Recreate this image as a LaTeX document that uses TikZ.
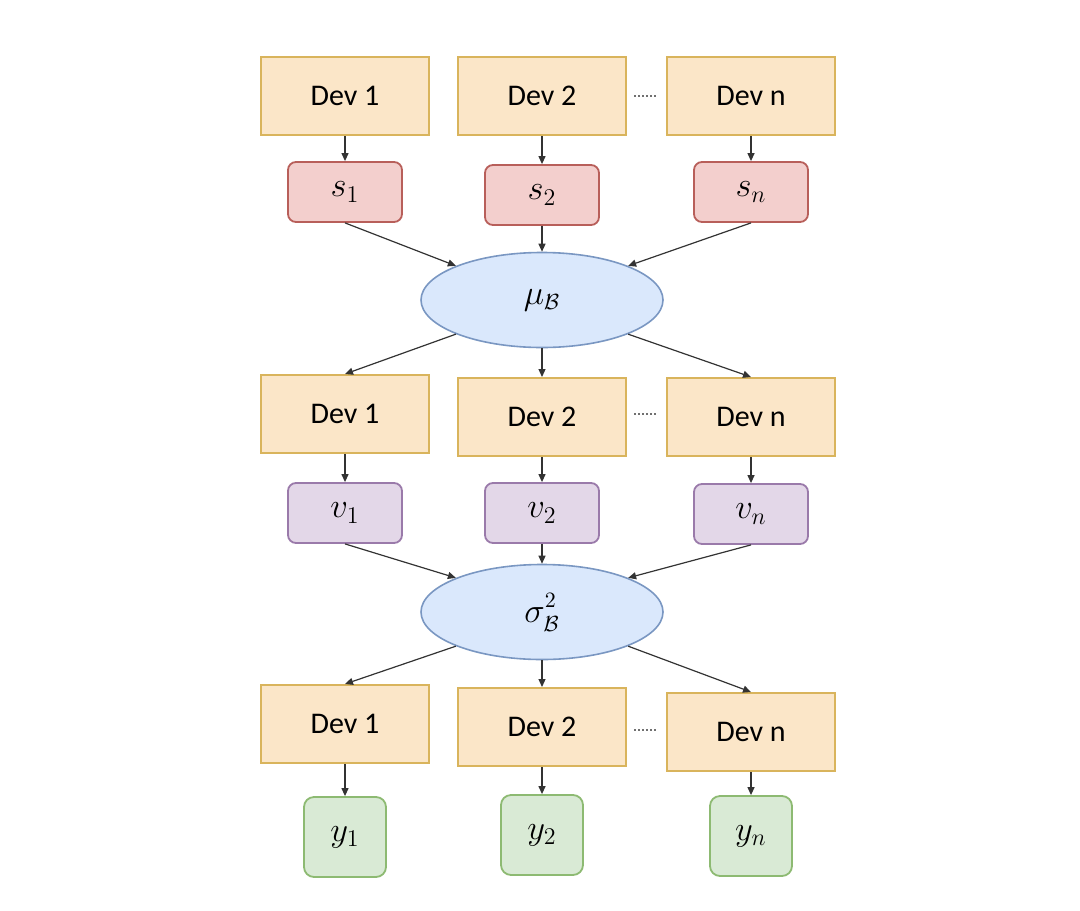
\documentclass[tikz,border=0pt]{standalone}
\usepackage{fontspec}
\usepackage{amsmath}
\newfontfamily\devfont{Carlito}
\usetikzlibrary{shapes.geometric,arrows.meta,calc}
\definecolor{devfill}{HTML}{FBE6C8}
\definecolor{devdraw}{HTML}{D9B45C}
\definecolor{sfill}{HTML}{F3CFCD}
\definecolor{sdraw}{HTML}{B85F5A}
\definecolor{vfill}{HTML}{E3D7E8}
\definecolor{vdraw}{HTML}{9A7AAA}
\definecolor{yfill}{HTML}{D9EAD5}
\definecolor{ydraw}{HTML}{8DBA72}
\definecolor{efill}{HTML}{DAE8FC}
\definecolor{edraw}{HTML}{7A97C2}
\definecolor{arr}{HTML}{333333}
\begin{document}
\begin{tikzpicture}[x=0.5pt,y=-0.5pt,
  devbox/.style={draw=devdraw,fill=devfill,line width=1pt,minimum width=84pt,minimum height=39pt,inner sep=0pt,font=\devfont\fontsize{15}{17}\selectfont},
  sbox/.style={draw=sdraw,fill=sfill,line width=0.9pt,rounded corners=4pt,minimum width=57pt,minimum height=30pt,inner sep=0pt,font=\fontsize{18}{20}\selectfont},
  vbox/.style={sbox,draw=vdraw,fill=vfill},
  ybox/.style={sbox,draw=ydraw,fill=yfill,minimum width=41pt,minimum height=40pt,rounded corners=5pt},
  ell/.style={ellipse,draw=edraw,fill=efill,line width=0.8pt,minimum width=121pt,minimum height=47.5pt,inner sep=0pt,font=\fontsize{16}{18}\selectfont},
  conn/.style={draw=arr,line width=0.6pt,-{Triangle[length=4pt,width=3.5pt]}},
  dots/.style={draw=arr!70,line width=1pt,dash pattern=on 1pt off 1pt}]
\useasboundingbox (0,0) rectangle (1080,910);
% row 1
\node[devbox] (d11) at (345,96) {Dev 1};
\node[devbox] (d12) at (542,96) {Dev 2};
\node[devbox] (d1n) at (751,96) {Dev n};
\node[sbox] (s1) at (345,192) {$s_1$};
\node[sbox] (s2) at (542,195) {$s_2$};
\node[sbox] (sn) at (751,192) {$s_n$};
\node[ell] (mu) at (542,300) {$\mu_{\mathcal{B}}$};
% row 2
\node[devbox] (d21) at (345,414) {Dev 1};
\node[devbox] (d22) at (542,417) {Dev 2};
\node[devbox] (d2n) at (751,417) {Dev n};
\node[vbox] (v1) at (345,513) {$v_1$};
\node[vbox] (v2) at (542,513) {$v_2$};
\node[vbox] (vn) at (751,514) {$v_n$};
\node[ell] (sig) at (542,612) {$\sigma^{\raisebox{1.5pt}{$\scriptstyle 2$}}_{\mathcal{B}}$};
% row 3
\node[devbox] (d31) at (345,724) {Dev 1};
\node[devbox] (d32) at (542,727) {Dev 2};
\node[devbox] (d3n) at (751,732) {Dev n};
\node[ybox] (y1) at (345,837) {$y_1$};
\node[ybox] (y2) at (542,835) {$y_2$};
\node[ybox] (yn) at (751,836) {$y_n$};
% dots
\draw[dots] ($(d12.east)+(7,0)$) -- ($(d1n.west)+(-9,0)$);
\draw[dots] ($(d22.east)+(7,-3)$) -- ($(d2n.west)+(-9,-3)$);
\draw[dots] ($(d32.east)+(7,3)$) -- ($(d3n.west)+(-9,-2)$);
% arrows
\draw[conn] (d11.south) -- (s1.north);
\draw[conn] (d12.south) -- (s2.north);
\draw[conn] (d1n.south) -- (sn.north);
\draw[conn] (s1.south) -- (mu.north west);
\draw[conn] (s2.south) -- (mu.north);
\draw[conn] (sn.south) -- (mu.north east);
\draw[conn] (mu.south west) -- (d21.north);
\draw[conn] (mu.south) -- (d22.north);
\draw[conn] (mu.south east) -- (d2n.north);
\draw[conn] (d21.south) -- (v1.north);
\draw[conn] (d22.south) -- (v2.north);
\draw[conn] (d2n.south) -- (vn.north);
\draw[conn] (v1.south) -- (sig.north west);
\draw[conn] (v2.south) -- (sig.north);
\draw[conn] (vn.south) -- (sig.north east);
\draw[conn] (sig.south west) -- (d31.north);
\draw[conn] (sig.south) -- (d32.north);
\draw[conn] (sig.south east) -- (d3n.north);
\draw[conn] (d31.south) -- (y1.north);
\draw[conn] (d32.south) -- (y2.north);
\draw[conn] (d3n.south) -- (yn.north);
\end{tikzpicture}
\end{document}
